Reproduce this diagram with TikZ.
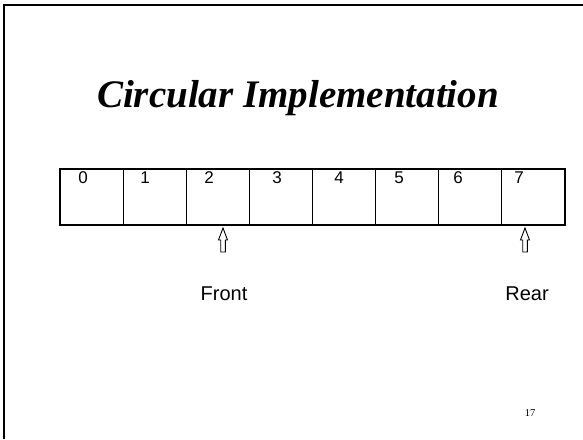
\documentclass[tikz,border=0pt]{standalone}
\usepackage{fontspec}
\setmainfont{Liberation Serif}
\newfontfamily\arialfont{Liberation Sans}
\tikzset{
	cellbox/.style={draw,line width=1.2,minimum width=63.125pt,minimum height=56pt,inner sep=0pt,outer sep=0pt},
	idxtext/.style={font=\arialfont\fontsize{17}{20}\selectfont,anchor=base,inner sep=0pt},
	ptrtext/.style={font=\arialfont\fontsize{20}{24}\selectfont,anchor=base,inner sep=0pt},
	blockarrow/.style={draw,line width=0.9,fill=white,line join=miter}
}
\begin{document}
\begin{tikzpicture}[x=1pt,y=-1pt]
			\fill [white] (0,0) rectangle (583,439);
			\useasboundingbox (0,0) rectangle (583,439);
			%\draw [help lines] (0,0) grid (583,439);
			\coordinate (TL) at (3.5,5);
			\coordinate (BL) at (3.5,439);
			\coordinate (TR) at (583,5);
			\draw [line width=2] (BL) to (TL) to (TR);
			\node [font=\bfseries\itshape\fontsize{39}{44}\selectfont,anchor=base,inner sep=0pt] (title) at (298,107) {Circular Implementation};
			\foreach \i in {0,...,7}
				\node [cellbox] (c\i) at ({60+63.125*\i+31.5625},197) {};
			\node [idxtext] (n0) at (83,183) {0};
			\node [idxtext] (n1) at (145,183) {1};
			\node [idxtext] (n2) at (209,183) {2};
			\node [idxtext] (n3) at (277,183) {3};
			\node [idxtext] (n4) at (339,183) {4};
			\node [idxtext] (n5) at (399,183) {5};
			\node [idxtext] (n6) at (458,183) {6};
			\node [idxtext] (n7) at (519,183) {7};
			\coordinate (frontarr) at (223,228);
			\coordinate (reararr) at (525,228);
			\draw [blockarrow,shift={(frontarr)}] (0,0) -- (4.5,12) -- (2.3,12) -- (2.3,24) -- (-2.3,24) -- (-2.3,12) -- (-4.5,12) -- cycle;
			\draw [blockarrow,shift={(reararr)}] (0,0) -- (4.5,12) -- (2.3,12) -- (2.3,24) -- (-2.3,24) -- (-2.3,12) -- (-4.5,12) -- cycle;
			\node [ptrtext] (front) at (224,300) {Front};
			\node [ptrtext] (rear) at (527,300) {Rear};
			\node [font=\fontsize{10.5}{12}\selectfont,anchor=base,inner sep=0pt] (pageno) at (530,416.5) {17};
		\end{tikzpicture}
\end{document}
